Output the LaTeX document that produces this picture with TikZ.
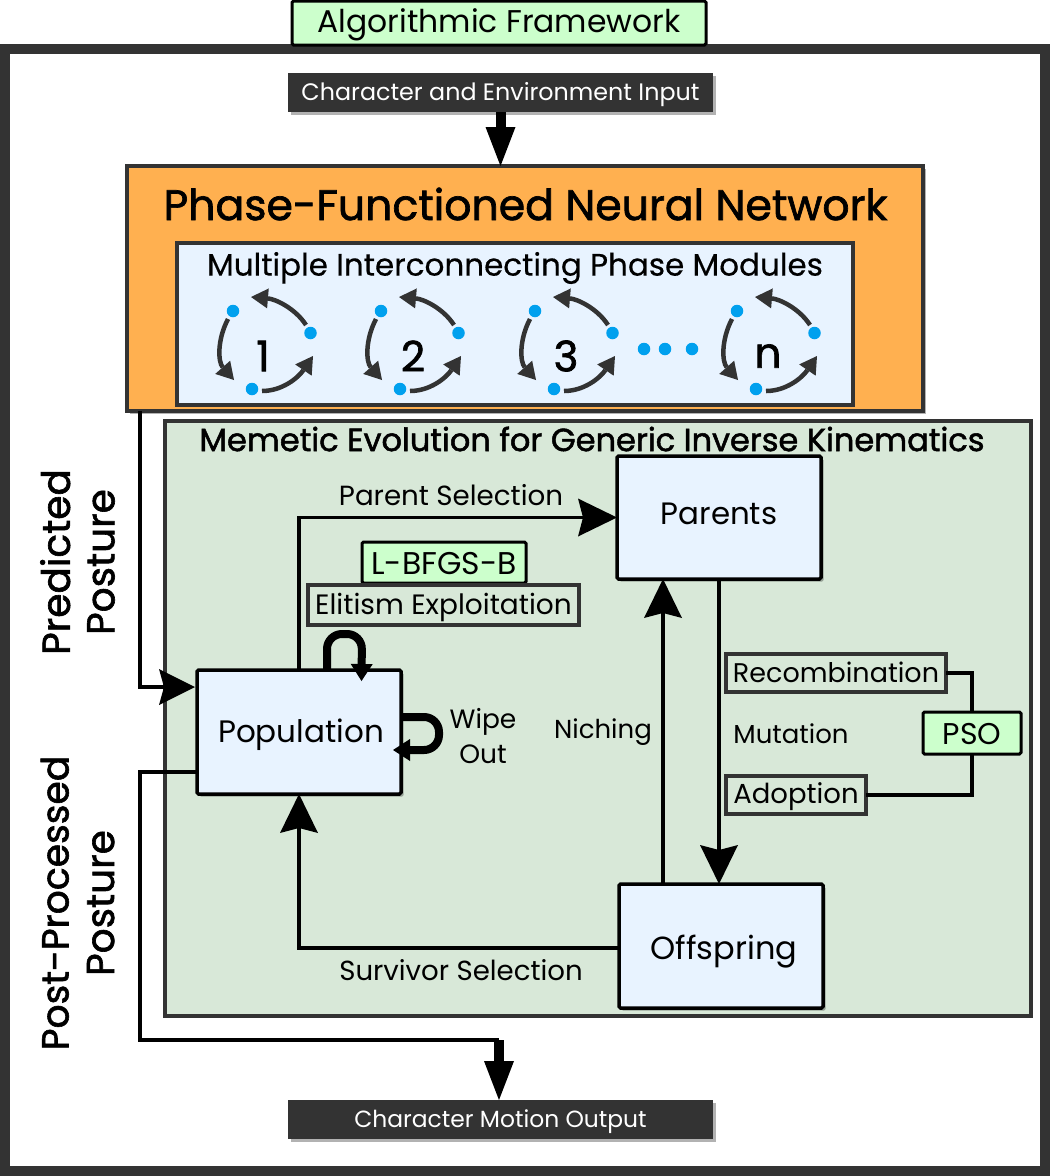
\documentclass[tikz,border=0pt]{standalone}
\usepackage{fontspec}
\setmainfont{Poppins}
\newfontfamily\fbold[FakeBold=1.6]{Poppins}
\newfontfamily\flight[FakeBold=0.4]{Poppins}
\usetikzlibrary{arrows.meta,shadows,calc}
\definecolor{dark}{HTML}{333333}
\definecolor{mint}{HTML}{CCFFCC}
\definecolor{ice}{HTML}{E8F3FF}
\definecolor{sage}{HTML}{D8E8D8}
\definecolor{orangeb}{HTML}{FFB050}
\definecolor{dotblue}{HTML}{00A0EE}
\newcommand{\tsz}[1]{\fontsize{#1}{#1}\selectfont}
\newcommand{\dn}[2]{\raisebox{\dimexpr #1pt-0.35em\relax}[0pt][0pt]{#2}}
\tikzset{
  x=1pt,y=-1pt,
  softshadow/.style={drop shadow={shadow xshift=2.5pt,shadow yshift=-2.5pt,opacity=.3,fill=black}},
  box/.style={draw=black,line width=3.5pt,rounded corners=1.5pt,fill=ice,inner sep=0,outer sep=0,softshadow,align=center},
  minted/.style={draw=black,line width=3pt,rounded corners=1.5pt,fill=mint,inner sep=0,outer sep=0,align=center},
  tagbox/.style={draw=dark,line width=4pt,inner sep=0,outer sep=0,align=center},
  iobox/.style={fill=dark,text=white,inner sep=0,outer sep=0,softshadow,minimum width=425pt,minimum height=39pt},
  panel/.style={draw=dark,line width=3.5pt,inner sep=0,outer sep=0},
  label/.style={inner sep=0,outer sep=0,align=center,text=black},
  flow/.style={draw=black,line width=3.5pt,-{Stealth[length=39pt,width=38pt,inset=5pt,line width=0pt]}},
  flowsmall/.style={draw=black,line width=3.5pt,-{Stealth[length=36pt,width=36pt,inset=5pt,line width=0pt]}},
  wire/.style={draw=black,line width=3.5pt},
  fat/.style={draw=black,line width=10pt,-{Triangle[length=39pt,width=30pt,line width=0pt]}},
  loopy/.style={draw=black,line width=8pt,-{Triangle[length=17pt,width=22pt,line width=0pt]},rounded corners=15pt},
  cyc/.style={draw=dark,line width=4.5pt,-{Triangle[length=17pt,width=20pt,line width=0pt]}},
  dotn/.style={circle,fill=dotblue,minimum size=12.5pt,inner sep=0,outer sep=0},
}
\begin{document}
\begin{tikzpicture}
\useasboundingbox (0,0) rectangle (1050,1176);
\fill[white] (0,0) rectangle (1050,1176);
\draw[dark,line width=10pt] (5,49) rectangle (1045,1171);
\node[minted,minimum width=414pt,minimum height=44pt] (title) at (499,23) {\tsz{31.4}\dn{1}{Algorithmic Framework}};
\node[iobox] (in) at (500.5,92.5) {\tsz{23.8}\dn{0}{Character and Environment Input}};
\node[panel,fill=orangeb,softshadow,minimum width=796pt,minimum height=245pt] (pfnn) at (525,288.5) {};
\node[label] (pfnnt) at (525.5,204) {\fbold\tsz{42.6}Phase-Functioned Neural Network};
\node[panel,draw=dark,line width=4pt,fill=ice,minimum width=676pt,minimum height=162pt] (mods) at (515,324) {};
\node[label] (modst) at (515,268) {\flight\tsz{31}Multiple Interconnecting Phase Modules};
\foreach \off/\lab/\lx in {0/1/263,148/2/413,302/3/566,504/n/768}{
  \begin{scope}[shift={(\off,0)}]
    \node[dotn] (a\lab) at (233,311) {};
    \node[dotn] (b\lab) at (310.5,333) {};
    \node[dotn] (c\lab) at (252,389) {};
    \draw[cyc] (306,325) .. controls (295,308) and (275,299) .. (251,297);
    \draw[cyc] (228,319) .. controls (217,340) and (218,362) .. (234,380);
    \draw[cyc] (262,391) .. controls (282,391) and (298,378) .. (313,356);
  \end{scope}
  \node[label] (num\lab) at (\lx,356) {\fbold\tsz{42}\lab};
}
\node[dotn] (e1) at (644,349) {};
\node[dotn] (e2) at (665,349) {};
\node[dotn] (e3) at (692,349) {};
\node[panel,fill=sage,minimum width=866pt,minimum height=595pt] (mem) at (598,718.5) {};
\node[label] (memt) at (592,439) {\fbold\tsz{32}Memetic Evolution for Generic Inverse Kinematics};
\node[box,minimum width=204pt,minimum height=123pt] (par) at (719,517.5) {\tsz{30.9}\dn{3.5}{Parents}};
\node[box,minimum width=204pt,minimum height=124pt] (off) at (721,946) {\hspace*{6pt}\tsz{32}\dn{-2}{Offspring}};
\node[box,minimum width=204pt,minimum height=124pt] (pop) at (299,732) {\hspace*{4pt}\tsz{31}\dn{0}{Population}};
\node[minted,minimum width=164pt,minimum height=41pt] (lb) at (444,562.5) {\tsz{31.4}\dn{-1}{L-BFGS-B}};
\node[tagbox,minimum width=271pt,minimum height=40pt] (eli) at (443.5,605) {\tsz{28}\dn{0}{Elitism Exploitation}};
\node[tagbox,minimum width=220pt,minimum height=38pt] (rec) at (836,673) {\tsz{27}\dn{0}{Recombination}};
\node[tagbox,minimum width=140pt,minimum height=38pt] (ado) at (796,795) {\tsz{27.5}\dn{1}{Adoption}};
\node[minted,minimum width=98pt,minimum height=42pt] (pso) at (972,733) {\tsz{30}\dn{-1}{PSO}};
\node[iobox] (outb) at (500.5,1119.5) {\tsz{23.4}\dn{0}{Character Motion Output}};
\node[label] (ps) at (451,495) {\tsz{27.7}Parent Selection};
\node[label] (nich) at (603,732) {\tsz{26}Niching};
\node[label] (mut) at (791,734) {\tsz{26}Mutation};
\node[label] (surv) at (461,970) {\tsz{27.6}Survivor Selection};
\node[label] (wipe) at (483,736) {\tsz{26.5}Wipe\\[8.5pt]\tsz{26.5}Out};
\node[label,rotate=90] (pred) at (77.5,562) {\fbold\tsz{39}Predicted\\[16pt]\fbold\tsz{39}Posture};
\node[label,rotate=90] (post) at (77.5,903) {\fbold\tsz{37.7}Post-Processed\\[17pt]\fbold\tsz{39}Posture};
% connectors
\coordinate (nx) at (663,800);
\coordinate (mx) at (719,800);
\coordinate (lx) at (140,800);
\coordinate (elb) at (499,1040);
\coordinate (popin) at (195,687);
\coordinate (popout) at (197,772);
\coordinate (offw) at (619,948);
\coordinate (e1x) at (327,640);
\coordinate (wy1) at (420,717);
\draw[fat] (in.south) -- (in.south |- pfnn.north);
\draw[flow] (pop.north) |- (par.west);
\draw[flow] (mx |- par.south) -- (mx |- off.north);
\draw[flow] (nx |- off.north) -- (nx |- par.south);
\draw[flow] (offw) -| (pop.south);
\draw[flowsmall] (lx |- pfnn.south) |- (popin);
\draw[wire] (popout) -| (lx |- elb) -- (elb);
\draw[fat] (elb) -- (elb |- outb.north);
\draw[wire] (rec.east) -| (pso.north);
\draw[wire] (pso.south) |- (ado.east);
\draw[loopy] (e1x |- pop.north) -- (327,634) -- (362,634) -- (361.5,681);
\draw[loopy] (pop.east |- wy1) -- (439,717) -- (439,750) -- (393,750);
\end{tikzpicture}
\end{document}
